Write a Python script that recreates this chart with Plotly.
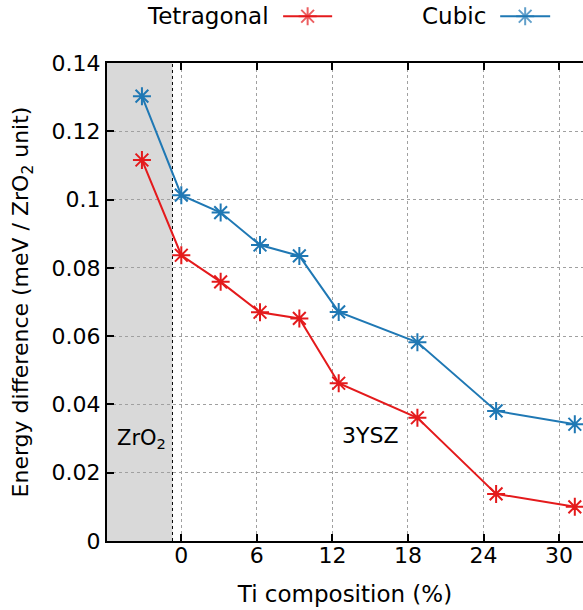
import plotly.graph_objects as go

# Data
ti_comp = [-3.125, 0, 3.125, 6.25, 9.375, 12.5, 18.75, 25, 31.25]
tetragonal = [0.1116, 0.0837, 0.0759, 0.0670, 0.0652, 0.0462, 0.0361, 0.0138, 0.0100]
cubic = [0.1303, 0.1013, 0.0962, 0.0867, 0.0835, 0.0671, 0.0582, 0.0381, 0.0342]
x_ticks = [0, 6, 12, 18, 24, 30]
y_ticks = [0, 0.02, 0.04, 0.06, 0.08, 0.1, 0.12, 0.14]
y_tick_labels = ["0", "0.02", "0.04", "0.06", "0.08", "0.1", "0.12", "0.14"]

RED = "#e41a1c"
BLUE = "#1f78b4"
FONT = "DejaVu Sans"

fig = go.Figure()

fig.add_shape(type="rect", xref="x", yref="y", x0=-5.9, x1=-0.7, y0=0, y1=0.14,
              fillcolor="#d9d9d9", line=dict(width=0), layer="below")
fig.add_shape(type="line", xref="x", yref="y", x0=-0.7, x1=-0.7, y0=0, y1=0.14,
              line=dict(color="black", width=1, dash="dot"), layer="below")

marker_common = dict(symbol="asterisk-open", size=15)
fig.add_trace(go.Scatter(x=ti_comp, y=tetragonal, mode="lines+markers", name="Tetragonal",
                         line=dict(color=RED, width=2),
                         marker=dict(color=RED, line=dict(color=RED, width=2), **marker_common),
                         showlegend=False))
fig.add_trace(go.Scatter(x=ti_comp, y=cubic, mode="lines+markers", name="Cubic",
                         line=dict(color=BLUE, width=2),
                         marker=dict(color=BLUE, line=dict(color=BLUE, width=2), **marker_common),
                         showlegend=False))

# legend samples on an auxiliary axis
fig.add_trace(go.Scatter(x=[0.370, 0.4215, 0.473], y=[0.5, 0.5, 0.5], mode="lines+markers",
                         xaxis="x2", yaxis="y2", showlegend=False, hoverinfo="skip",
                         line=dict(color=RED, width=2),
                         marker=dict(color=RED, line=dict(color=RED, width=2),
                                     size=[0, 15, 0], symbol="asterisk-open")))
fig.add_trace(go.Scatter(x=[0.826, 0.8785, 0.931], y=[0.5, 0.5, 0.5], mode="lines+markers",
                         xaxis="x2", yaxis="y2", showlegend=False, hoverinfo="skip",
                         line=dict(color=BLUE, width=2),
                         marker=dict(color=BLUE, line=dict(color=BLUE, width=2),
                                     size=[0, 15, 0], symbol="asterisk-open")))

fig.add_annotation(x=0.345, y=0.5, xref="x2", yref="y2", text="Tetragonal", showarrow=False,
                   xanchor="right", font=dict(family=FONT, size=23, color="black"))
fig.add_annotation(x=0.80, y=0.5, xref="x2", yref="y2", text="Cubic", showarrow=False,
                   xanchor="right", font=dict(family=FONT, size=23, color="black"))

fig.add_annotation(x=-3.2, y=0.030, xref="x", yref="y", text="ZrO<sub>2</sub>", showarrow=False,
                   font=dict(family=FONT, size=21, color="black"))
fig.add_annotation(x=15.0, y=0.031, xref="x", yref="y", text="3YSZ", showarrow=False,
                   font=dict(family=FONT, size=22, color="black"))

grid = dict(showgrid=True, gridcolor="#a0a0a0", gridwidth=1.3, griddash="3px,3px")

fig.update_layout(
    width=583, height=610,
    margin=dict(l=107, r=0, t=0, b=69, autoexpand=False),
    plot_bgcolor="white", paper_bgcolor="white",
    font=dict(family=FONT, size=22, color="black"),
    xaxis=dict(range=[-5.9, 31.9], tickvals=x_ticks, ticktext=[str(v) for v in x_ticks],
               ticks="inside", ticklen=7, tickwidth=1.5, tickcolor="black",
               showline=True, linecolor="black", linewidth=2, mirror="ticks",
               zeroline=False, domain=[0, 1], automargin=False, ticklabelstandoff=-6,
               title=dict(text="Ti composition (%)", font=dict(size=23), standoff=18),
               **grid),
    yaxis=dict(range=[0, 0.14], tickvals=y_ticks, ticktext=y_tick_labels,
               ticks="inside", ticklen=7, tickwidth=1.5, tickcolor="black",
               showline=True, linecolor="black", linewidth=2, mirror=False,
               zeroline=False, domain=[0, 0.8835], automargin=False,
               title=dict(text="Energy difference (meV / ZrO<sub>2</sub> unit)",
                          font=dict(size=22), standoff=17),
               **grid),
    xaxis2=dict(domain=[0, 1], range=[0, 1], visible=False, anchor="y2", fixedrange=True),
    yaxis2=dict(domain=[0.94, 1], range=[0, 1], visible=False, anchor="x2", fixedrange=True),
)

fig.write_html("out.html", config={"displayModeBar": False},
               post_script="document.body.style.margin='0';")
